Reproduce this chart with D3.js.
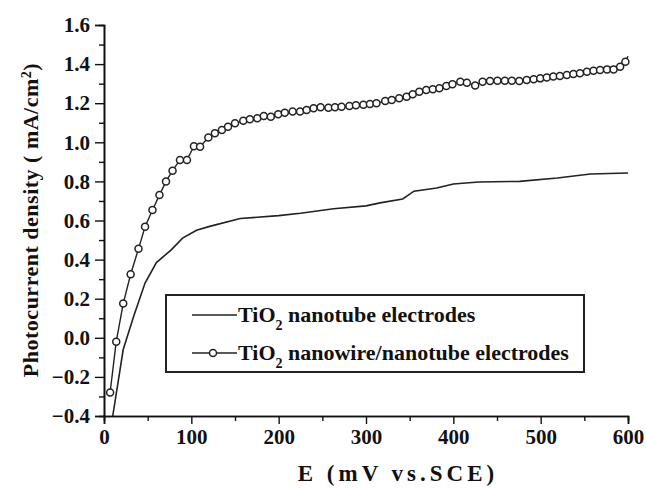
<!DOCTYPE html>
<html>
  <head>
    <meta charset="utf-8" />
    <title>Photocurrent density</title>
    <script src="https://cdn.jsdelivr.net/npm/d3@7/dist/d3.min.js"></script>
    <style>
      body { margin: 0; background: #fff; }
      text { font-family: "Liberation Serif", serif; font-weight: bold; fill: #111; }
    </style>
  </head>
  <body>
    <div id="canvas"></div>
  </body>
  <script>
    // TiO2 nanotube electrodes (plain line)
    const tubeE = [10, 16, 22, 34, 47, 60, 77, 90, 106, 121, 156, 200, 225, 263, 300, 316, 342, 355, 381, 400, 429, 476, 519, 557, 600];
    const tubeJ = [-0.40, -0.23, -0.06, 0.11, 0.28, 0.385, 0.45, 0.51, 0.55, 0.57, 0.61, 0.625, 0.637, 0.66, 0.675, 0.69, 0.71, 0.75, 0.766, 0.787, 0.797, 0.80, 0.817, 0.838, 0.843];

    // TiO2 nanowire/nanotube electrodes (line + open circles)
    const wireE = [7, 14, 22, 30.5, 39.5, 47, 55.5, 63.5, 71, 78.5, 87, 95, 103, 110, 119.5, 127, 135, 142, 150, 159.5,
      167, 175.5, 183, 191, 199.5, 207, 216, 224.5, 232, 240, 248, 257, 264.5, 272, 281, 288.5, 297, 304.5, 312, 322,
      329.5, 338, 346.5, 353.5, 361, 369, 376.5, 384, 392, 399, 408, 415.5, 425, 433.5, 442, 450.5, 459, 467, 475.5, 484,
      492, 499.5, 507, 514.5, 522, 530, 537.5, 545, 553, 560.5, 568, 576, 583.5, 591, 597];
    const wireJ = [-0.28, -0.02, 0.175, 0.325, 0.455, 0.568, 0.654, 0.73, 0.80, 0.855, 0.91, 0.91, 0.98, 0.977, 1.024, 1.046, 1.063, 1.08, 1.097, 1.11,
      1.118, 1.123, 1.135, 1.131, 1.143, 1.151, 1.157, 1.157, 1.165, 1.174, 1.179, 1.177, 1.179, 1.182, 1.186, 1.189, 1.192, 1.196, 1.2, 1.211,
      1.216, 1.225, 1.233, 1.246, 1.259, 1.267, 1.271, 1.276, 1.288, 1.297, 1.31, 1.305, 1.29, 1.31, 1.313, 1.315, 1.315, 1.315, 1.313, 1.319,
      1.322, 1.327, 1.332, 1.336, 1.339, 1.344, 1.349, 1.353, 1.361, 1.366, 1.37, 1.373, 1.373, 1.387, 1.412];
    // last reading at the top end (hook without a full marker)
    const wireEndE = 600, wireEndJ = 1.44;

    const xTicks = [0, 100, 200, 300, 400, 500, 600];
    const xMinor = [50, 150, 250, 350, 450, 550];
    const yTicks = [-0.4, -0.2, 0.0, 0.2, 0.4, 0.6, 0.8, 1.0, 1.2, 1.4, 1.6];
    const yMinor = [-0.3, -0.1, 0.1, 0.3, 0.5, 0.7, 0.9, 1.1, 1.3, 1.5];
    const legendNames = ["nanotube electrodes", "nanowire/nanotube electrodes"];

    const width = 647, height = 488;
    const margin = { left: 104, right: 19, top: 25, bottom: 72 };

    const svg = d3.select("#canvas").append("svg")
      .attr("width", width)
      .attr("height", height)
      .attr("viewBox", [0, 0, width, height]);

    const x = d3.scaleLinear().domain([0, 600]).range([margin.left, width - margin.right]);
    const y = d3.scaleLinear().domain([-0.4, 1.6]).range([height - margin.bottom, margin.top]);

    // axes: major + minor ticks, outward
    const gx = svg.append("g").attr("transform", `translate(0,${y(-0.4)})`);
    gx.call(d3.axisBottom(x).tickValues(xTicks).tickFormat(d3.format("d")).tickSize(8).tickPadding(5));
    gx.append("g").call(d3.axisBottom(x).tickValues(xMinor).tickSize(5).tickFormat(""));

    const gy = svg.append("g").attr("transform", `translate(${x(0)},0)`);
    gy.call(d3.axisLeft(y).tickValues(yTicks).tickFormat(d3.format(".1f")).tickSize(9).tickPadding(5));
    gy.append("g").call(d3.axisLeft(y).tickValues(yMinor).tickSize(5).tickFormat(""));

    svg.selectAll(".domain").attr("stroke", "#111").attr("stroke-width", 1.6);
    svg.selectAll(".tick line").attr("stroke", "#111").attr("stroke-width", 1.4);
    svg.selectAll(".tick text")
      .style("font-family", "'Liberation Serif', serif")
      .style("font-weight", "bold")
      .style("font-size", "21px")
      .attr("fill", "#111");

    // axis titles
    svg.append("text")
      .attr("x", 398).attr("y", 481)
      .attr("text-anchor", "middle")
      .style("font-size", "23px")
      .attr("letter-spacing", 4)
      .text("E (mV vs.SCE)");

    const yt = svg.append("text")
      .attr("transform", "translate(38,220) rotate(-90)")
      .attr("text-anchor", "middle")
      .attr("letter-spacing", 0.5)
      .style("font-size", "22px");
    yt.append("tspan").text("Photocurrent density ( mA/cm");
    yt.append("tspan").attr("baseline-shift", "super").style("font-size", "14px").text("2");
    yt.append("tspan").text(")");

    // curves
    const line = d3.line().x(d => x(d[0])).y(d => y(d[1]));
    const tube = tubeE.map((e, i) => [e, tubeJ[i]]);
    const wire = wireE.map((e, i) => [e, wireJ[i]]);

    svg.append("path")
      .datum(tube)
      .attr("fill", "none")
      .attr("stroke", "#222")
      .attr("stroke-width", 1.6)
      .attr("d", line);

    svg.append("path")
      .datum(wire.concat([[wireEndE, wireEndJ]]))
      .attr("fill", "none")
      .attr("stroke", "#222")
      .attr("stroke-width", 1.4)
      .attr("d", line);

    svg.append("g")
      .selectAll("circle")
      .data(wire)
      .join("circle")
      .attr("cx", d => x(d[0]))
      .attr("cy", d => y(d[1]))
      .attr("r", 3.5)
      .attr("fill", "#fff")
      .attr("stroke", "#222")
      .attr("stroke-width", 1.5);

    // legend
    const lg = svg.append("g");
    lg.append("rect")
      .attr("x", 166).attr("y", 295)
      .attr("width", 418).attr("height", 77)
      .attr("fill", "#fff")
      .attr("stroke", "#222")
      .attr("stroke-width", 2);

    legendNames.forEach((name, i) => {
      const ly = 315 + i * 38;
      lg.append("line")
        .attr("x1", 192).attr("x2", 237)
        .attr("y1", ly).attr("y2", ly)
        .attr("stroke", "#222").attr("stroke-width", 1.6);
      if (i === 1) {
        lg.append("circle")
          .attr("cx", 213).attr("cy", ly).attr("r", 3.5)
          .attr("fill", "#fff").attr("stroke", "#222").attr("stroke-width", 1.5);
      }
      const t = lg.append("text")
        .attr("x", 238).attr("y", ly + 7)
        .style("font-size", "22px");
      t.append("tspan").text("TiO");
      t.append("tspan").attr("baseline-shift", "sub").style("font-size", "14px").text("2");
      t.append("tspan").text(" " + name);
    });
  </script>
</html>
